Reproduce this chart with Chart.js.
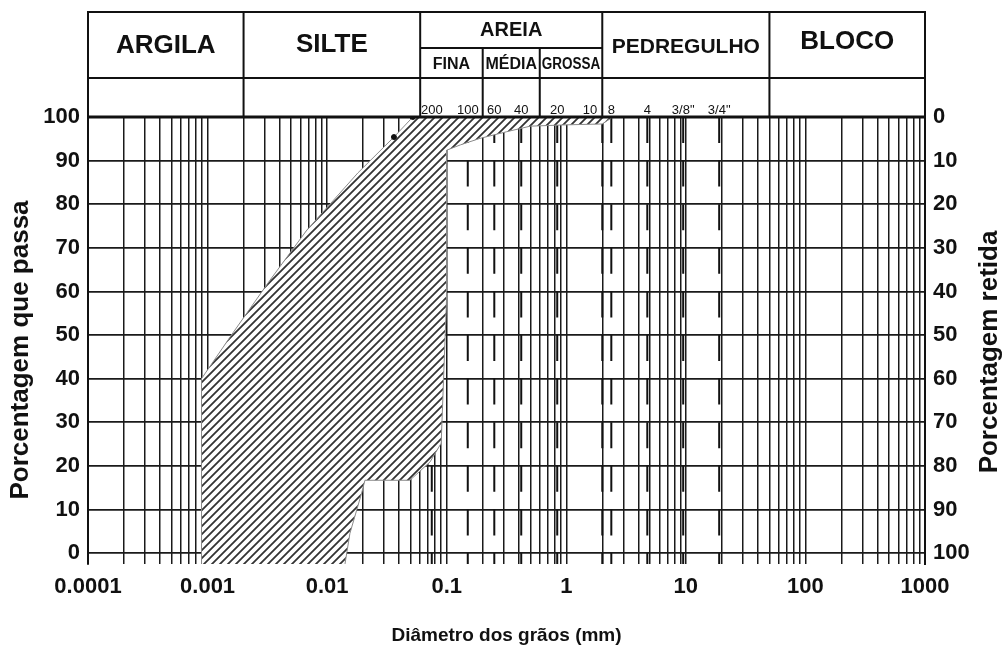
<!DOCTYPE html>
<html lang="pt-BR">
<head>
<meta charset="utf-8">
<title>Curva granulométrica</title>
<script src="https://cdn.jsdelivr.net/npm/chart.js@4.4.0/dist/chart.umd.min.js"></script>
<style>
  html, body { margin: 0; padding: 0; background: #fff; }
  #wrap { width: 1006px; height: 659px; position: relative; }
</style>
</head>
<body>
<div id="wrap"><canvas id="granulometria"></canvas></div>
<script>
// ======== Dados ========
const decadas = [0.0001, 0.001, 0.01, 0.1, 1, 10, 100, 1000];
const decadasTexto = ["0.0001", "0.001", "0.01", "0.1", "1", "10", "100", "1000"];
const passaMin = -2.5;

// Classes de solo (limites em mm)
const classeLimites = [0.0001, 0.002, 0.06, 2, 50, 1000];
const classeNomes = ["ARGILA", "SILTE", "AREIA", "PEDREGULHO", "BLOCO"];
const areiaLimites = [0.06, 0.2, 0.6, 2];
const areiaNomes = ["FINA", "MÉDIA", "GROSSA"];

// Peneiras e aberturas (mm)
const peneiras = ["200", "100", "60", "40", "20", "10", "8", "4", "3/8\"", "3/4\""];
const aberturas = [0.075, 0.15, 0.25, 0.42, 0.84, 2.0, 2.38, 4.76, 9.5, 19.0];

// Faixa granulométrica: limite fino e limite grosso
const finoDiam = [0.00089, 0.00089, 0.00163, 0.00333, 0.00678, 0.0181, 0.0362, 0.0521];
const finoPassa = [passaMin, 40, 50.5, 62.6, 74.1, 87.2, 95.4, 100];
const grossoDiam = [0.0141, 0.0155, 0.0194, 0.0207, 0.0492, 0.0725, 0.0899, 0.0996, 0.1, 0.13, 0.19, 0.315, 0.5, 1.0, 2.0, 2.45];
const grossoPassa = [passaMin, 4.5, 13.7, 16.7, 16.7, 20.9, 25.2, 58, 92.4, 93.6, 95.1, 96.6, 97.9, 98.2, 98.4, 100];

// pontos ensaiados marcados no limite fino
const pontosDiam = [0.0362, 0.0521];
const pontosPassa = [95.4, 100];

const PRETO = "#111";
const FONTE = "'Liberation Sans', Arial, sans-serif";

// linhas verticais 1..9 de cada década
const linhasGrade = [];
decadas.forEach((d, i) => {
  if (i === decadas.length - 1) { linhasGrade.push(d); return; }
  for (let m = 1; m <= 9; m++) linhasGrade.push(m === 1 ? d : m * d);
});

// contorno fechado da faixa: limite fino e depois o grosso de volta
const faixa = finoDiam.map((d, i) => ({ x: d, y: finoPassa[i] }))
  .concat(grossoDiam.map((d, i) => ({ x: d, y: grossoPassa[i] })).reverse());

// Hachura diagonal com fundo branco
function hachura() {
  const c = document.createElement("canvas");
  c.width = 8;
  c.height = 8;
  const g = c.getContext("2d");
  g.fillStyle = "#fff";
  g.fillRect(0, 0, 8, 8);
  g.strokeStyle = "#333";
  g.lineWidth = 1.8;
  g.beginPath();
  g.moveTo(-1, 9); g.lineTo(9, -1);
  g.moveTo(-1, 1); g.lineTo(1, -1);
  g.moveTo(7, 9); g.lineTo(9, 7);
  g.stroke();
  return g.createPattern(c, "repeat");
}

const linhasPeneira = aberturas.map((a) => ({
  data: [{ x: a, y: 100 }, { x: a, y: passaMin }],
  borderColor: PRETO,
  borderWidth: 2,
  borderDash: [26, 17.6],
  pointRadius: 0,
  fill: false,
}));

// -------------------------
// Cabeçalho com as classes, peneiras e títulos dos eixos
// -------------------------
const cabecalho = {
  id: "cabecalho",
  afterDraw(chart) {
    const { ctx, chartArea: a, scales } = chart;
    const x = scales.x;
    const topo = a.top - 105, meio = a.top - 69, base = a.top - 39;

    ctx.save();
    ctx.strokeStyle = PRETO;
    ctx.lineWidth = 2;
    ctx.beginPath();
    ctx.moveTo(a.left, topo); ctx.lineTo(a.right, topo);
    ctx.moveTo(a.left, base); ctx.lineTo(a.right, base);
    ctx.moveTo(x.getPixelForValue(areiaLimites[0]), meio);
    ctx.lineTo(x.getPixelForValue(areiaLimites[areiaLimites.length - 1]), meio);
    classeLimites.forEach((v) => {
      const px = x.getPixelForValue(v);
      ctx.moveTo(px, topo - 1); ctx.lineTo(px, a.top);
    });
    areiaLimites.slice(1, -1).forEach((v) => {
      const px = x.getPixelForValue(v);
      ctx.moveTo(px, meio); ctx.lineTo(px, a.top);
    });
    ctx.stroke();

    // borda superior da área do gráfico (100 %)
    ctx.lineWidth = 3;
    ctx.beginPath();
    ctx.moveTo(a.left, a.top); ctx.lineTo(a.right, a.top);
    ctx.stroke();

    ctx.fillStyle = PRETO;
    ctx.textAlign = "center";
    ctx.textBaseline = "middle";
    const classeY = [a.top - 71, a.top - 72, a.top - 87, a.top - 70, a.top - 75];
    const classeFonte = [26, 26, 20, 21, 26];
    classeNomes.forEach((nome, i) => {
      const cx = (x.getPixelForValue(classeLimites[i]) + x.getPixelForValue(classeLimites[i + 1])) / 2;
      ctx.font = `bold ${classeFonte[i]}px ${FONTE}`;
      ctx.fillText(nome, cx, classeY[i]);
    });
    ctx.font = `bold 16px ${FONTE}`;
    areiaNomes.forEach((nome, i) => {
      const x0 = x.getPixelForValue(areiaLimites[i]);
      const x1 = x.getPixelForValue(areiaLimites[i + 1]);
      ctx.fillText(nome, (x0 + x1) / 2, a.top - 52, x1 - x0 - 4);
    });

    ctx.font = `13px ${FONTE}`;
    peneiras.forEach((p, i) => {
      const px = x.getPixelForValue(aberturas[i]);
      if (p === "10") {
        ctx.textAlign = "right";
        ctx.fillText(p, px - 5, a.top - 7);
        ctx.textAlign = "center";
      } else {
        ctx.fillText(p, px, a.top - 7);
      }
    });

    // títulos dos eixos
    ctx.font = `bold 19px ${FONTE}`;
    ctx.fillText("Diâmetro dos grãos (mm)", (a.left + a.right) / 2, 636);
    ctx.font = `bold 26px ${FONTE}`;
    ctx.translate(21, 350);
    ctx.rotate(-Math.PI / 2);
    ctx.fillText("Porcentagem que passa", 0, 0);
    ctx.setTransform(1, 0, 0, 1, 0, 0);
    ctx.translate(990, 352);
    ctx.rotate(-Math.PI / 2);
    ctx.fillText("Porcentagem retida", 0, 0);
    ctx.restore();
  },
};

const fonteTicks = { family: FONTE, size: 22, weight: "bold" };

new Chart(document.getElementById("granulometria"), {
  type: "line",
  data: {
    datasets: [
      {
        data: pontosDiam.map((d, i) => ({ x: d, y: pontosPassa[i] })),
        showLine: false,
        pointRadius: 2.5,
        pointBackgroundColor: PRETO,
        pointBorderColor: PRETO,
        fill: false,
      },
      {
        data: faixa,
        fill: "shape",
        backgroundColor: hachura(),
        borderColor: "#8a8a8a",
        borderWidth: 1,
        pointRadius: 0,
        tension: 0,
      },
      ...linhasPeneira,
    ],
  },
  options: {
    responsive: true,
    maintainAspectRatio: false,
    animation: false,
    layout: { padding: { top: 117 } },
    plugins: { legend: { display: false }, tooltip: { enabled: false } },
    scales: {
      x: {
        type: "logarithmic",
        min: decadas[0],
        max: decadas[decadas.length - 1],
        afterBuildTicks: (s) => { s.ticks = linhasGrade.map((v) => ({ value: v })); },
        afterFit: (s) => { s.height = 95; },
        ticks: {
          autoSkip: false,
          maxRotation: 0,
          padding: 10,
          color: PRETO,
          font: fonteTicks,
          // só as décadas recebem rótulo; as demais ficam com texto vazio
          callback: (v) => {
            const i = decadas.indexOf(v);
            return i >= 0 ? decadasTexto[i] : "";
          },
        },
        grid: { color: "#1a1a1a", lineWidth: 1.5, drawTicks: false },
        border: { display: false },
      },
      y: {
        min: passaMin,
        max: 100,
        afterFit: (s) => { s.width = 88; },
        ticks: { stepSize: 10, includeBounds: false, padding: 8, color: PRETO, font: fonteTicks },
        grid: { color: "#1a1a1a", lineWidth: 1.8, drawTicks: false },
        border: { display: true, color: PRETO, width: 2 },
      },
      y2: {
        position: "right",
        min: 0,
        max: 100 - passaMin,
        reverse: true,
        afterFit: (s) => { s.width = 81; },
        ticks: { stepSize: 10, includeBounds: false, padding: 8, color: PRETO, font: fonteTicks },
        grid: { display: false, drawTicks: false },
        border: { display: true, color: PRETO, width: 2 },
      },
    },
  },
  plugins: [cabecalho],
});
</script>
</body>
</html>
